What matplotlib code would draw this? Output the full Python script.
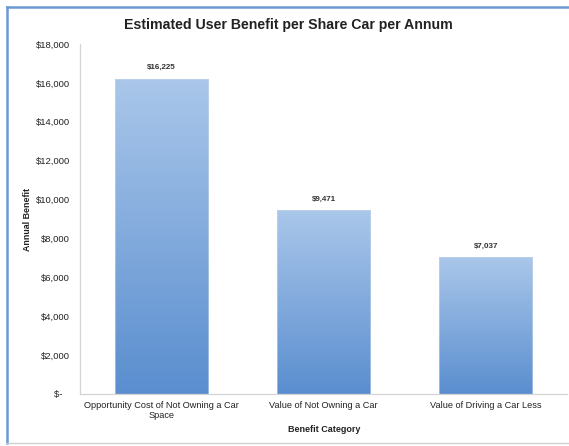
import matplotlib
matplotlib.use("Agg")
import matplotlib.pyplot as plt
import numpy as np
from matplotlib.lines import Line2D
from matplotlib.colors import LinearSegmentedColormap

plt.rcParams['font.family'] = ['Liberation Sans', 'DejaVu Sans']

categories = ["Opportunity Cost of Not Owning a Car\nSpace",
              "Value of Not Owning a Car",
              "Value of Driving a Car Less"]
values = [16225, 9471, 7037]
value_labels = ["$16,225", "$9,471", "$7,037"]
yticks = [0, 2000, 4000, 6000, 8000, 10000, 12000, 14000, 16000, 18000]
ytick_labels = ["$-   ", "$2,000", "$4,000", "$6,000", "$8,000", "$10,000",
                "$12,000", "$14,000", "$16,000", "$18,000"]

W, H = 569, 446
fig = plt.figure(figsize=(W / 100, H / 100), dpi=100)
ax = fig.add_axes([80 / W, (H - 394) / H, (567 - 80) / W, (394 - 44) / H])

x = np.arange(len(categories)) + 0.5
bar_w = 0.573

grad = LinearSegmentedColormap.from_list("barfill", ["#5a8ecf", "#aac7ea"])
gradient = np.linspace(0, 1, 256).reshape(-1, 1)
bars = ax.bar(x, values, width=bar_w, color="none", edgecolor="#c8d8ec",
              linewidth=0.4, zorder=3)
for b in bars:
    x0, y0 = b.get_x(), b.get_y()
    w, h = b.get_width(), b.get_height()
    im = ax.imshow(gradient, cmap=grad, aspect="auto", origin="lower",
                   extent=[x0, x0 + w, y0, y0 + h], zorder=2)
    im.set_clip_path(b)
ax.set_xlim(0, 3)
ax.set_ylim(0, 18000)

for xi, v, lab in zip(x, values, value_labels):
    ax.text(xi, v + 380, lab, ha="center", va="bottom", fontsize=5.8,
            fontweight="bold", color="#333333")

ax.set_yticks(yticks)
ax.set_yticklabels(ytick_labels, fontsize=6.8, color="#222222")
ax.set_xticks(x)
ax.set_xticklabels(categories, fontsize=6.6, color="#222222", linespacing=1.15)
ax.tick_params(axis="both", length=0)
ax.tick_params(axis="y", pad=7)
ax.tick_params(axis="x", pad=5)

for s in ["top", "right"]:
    ax.spines[s].set_visible(False)
for s in ["left", "bottom"]:
    ax.spines[s].set_color("#d4d4d4")
    ax.spines[s].set_linewidth(0.9)

fig.text(288 / W, 1 - 25 / H, "Estimated User Benefit per Share Car per Annum",
         ha="center", va="center", fontsize=10.2, fontweight="bold", color="#222222")
fig.text(27 / W, 1 - 219 / H, "Annual Benefit", rotation=90, ha="center",
         va="center", fontsize=6.4, fontweight="bold", color="#222222")
fig.text(324 / W, 1 - 430 / H, "Benefit Category", ha="center", va="center",
         fontsize=6.5, fontweight="bold", color="#222222")

# frame around the chart
fig.add_artist(Line2D([7 / W, 7 / W], [1 - 7 / H, 1 - 443 / H],
                      color="#6a9ad4", linewidth=1.8, transform=fig.transFigure))
fig.add_artist(Line2D([7 / W, 1], [1 - 7 / H, 1 - 7 / H],
                      color="#6a9ad4", linewidth=1.8, transform=fig.transFigure))
fig.add_artist(Line2D([7 / W, 1], [1 - 443 / H, 1 - 443 / H],
                      color="#d0d0d0", linewidth=1.0, transform=fig.transFigure))

fig.savefig("out.png", dpi=100)
